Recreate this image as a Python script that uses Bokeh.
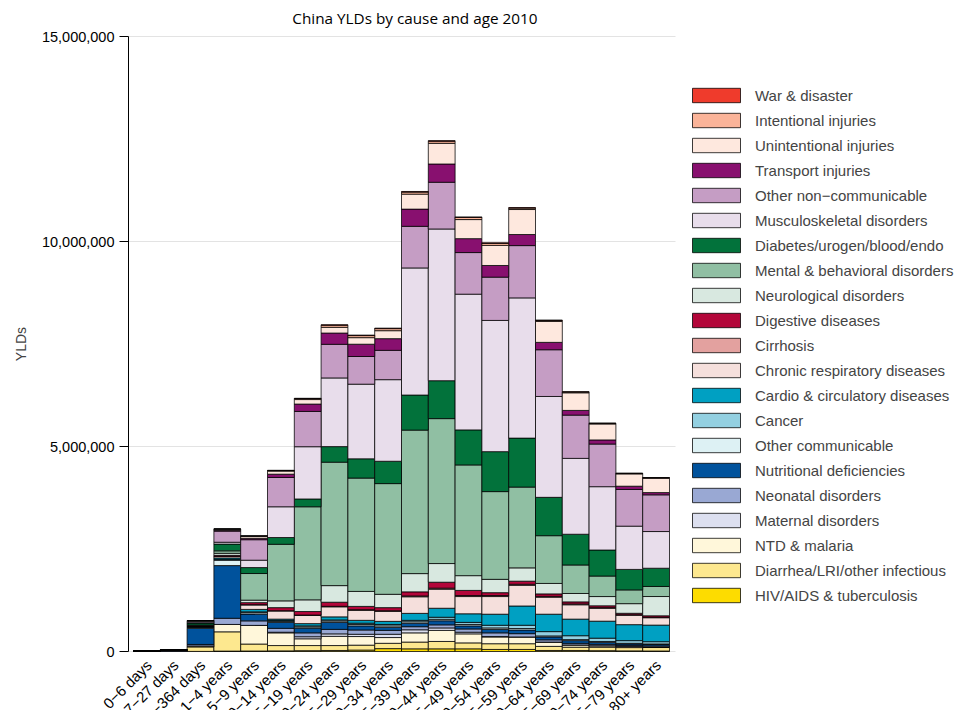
from bokeh.plotting import figure
from bokeh.models import (Range1d, FixedTicker, NumeralTickFormatter,
                          Legend, LegendItem, Label, ColumnDataSource)
from bokeh.core.properties import value
from bokeh.embed import file_html
from bokeh.resources import INLINE
import math

ages = ["0−6 days", "7−27 days", "28−364 days", "1−4 years", "5−9 years", "10−14 years",
        "15−19 years", "20−24 years", "25−29 years", "30−34 years", "35−39 years",
        "40−44 years", "45−49 years", "50−54 years", "55−59 years", "60−64 years",
        "65−69 years", "70−74 years", "75−79 years", "80+ years"]

# bottom to top stacking order
causes = ["HIV/AIDS & tuberculosis", "Diarrhea/LRI/other infectious", "NTD & malaria",
          "Maternal disorders", "Neonatal disorders", "Nutritional deficiencies",
          "Other communicable", "Cancer", "Cardio & circulatory diseases",
          "Chronic respiratory diseases", "Cirrhosis", "Digestive diseases",
          "Neurological disorders", "Mental & behavioral disorders",
          "Diabetes/urogen/blood/endo", "Musculoskeletal disorders",
          "Other non−communicable", "Transport injuries", "Unintentional injuries",
          "Intentional injuries", "War & disaster"]

colors = ["#FDDC00", "#FDE88F", "#FFF7DA", "#DCDFEF", "#99A8D3", "#00529C",
          "#DDF1F4", "#93D0E1", "#00A0C2", "#F5DFDC", "#E3A19F", "#B3063A",
          "#D8E8E0", "#90BFA3", "#02723B", "#E8DDEB", "#C59DC4", "#88106F",
          "#FEE8DE", "#FBB499", "#EF3B2C"]

hiv = [0, 0, 2000, 10000, 12000, 15000, 20000, 25000, 35000, 70000, 65000, 65000, 65000, 50000, 50000, 25000, 25000, 20000, 15000, 12000]
diarrhea = [2000, 8000, 110000, 470000, 170000, 130000, 125000, 120000, 120000, 130000, 165000, 180000, 145000, 140000, 140000, 100000, 80000, 85000, 80000, 85000]
ntd = [500, 1000, 25000, 180000, 455000, 310000, 165000, 225000, 210000, 140000, 225000, 270000, 220000, 165000, 165000, 105000, 55000, 35000, 25000, 15000]
maternal = [0, 0, 0, 0, 0, 15000, 50000, 60000, 55000, 80000, 75000, 60000, 40000, 10000, 0, 0, 0, 0, 0, 0]
neonatal = [9000, 20000, 35000, 150000, 110000, 95000, 95000, 110000, 105000, 95000, 75000, 75000, 80000, 90000, 80000, 55000, 40000, 35000, 30000, 25000]
nutritional = [0, 5000, 390000, 1285000, 165000, 145000, 115000, 170000, 100000, 75000, 85000, 100000, 75000, 85000, 90000, 70000, 65000, 50000, 35000, 35000]
other_comm = [1000, 2000, 25000, 130000, 35000, 25000, 30000, 35000, 35000, 35000, 35000, 35000, 35000, 35000, 35000, 25000, 25000, 20000, 15000, 12000]
cancer = [200, 300, 5000, 20000, 20000, 20000, 25000, 25000, 30000, 35000, 35000, 50000, 50000, 65000, 80000, 105000, 95000, 80000, 65000, 55000]
cardio = [500, 1000, 10000, 35000, 60000, 35000, 55000, 75000, 70000, 75000, 170000, 220000, 210000, 270000, 470000, 425000, 405000, 415000, 390000, 405000]
chronic_resp = [100, 300, 10000, 35000, 110000, 200000, 200000, 245000, 245000, 245000, 405000, 465000, 420000, 430000, 505000, 415000, 350000, 315000, 230000, 180000]
cirrhosis = [0, 0, 1000, 5000, 5000, 5000, 10000, 12000, 15000, 15000, 20000, 25000, 25000, 25000, 25000, 20000, 20000, 15000, 12000, 12000]
digestive = [300, 500, 8000, 25000, 50000, 75000, 85000, 100000, 80000, 75000, 100000, 145000, 125000, 70000, 75000, 60000, 50000, 45000, 35000, 35000]
neuro = [500, 1500, 20000, 50000, 60000, 165000, 285000, 405000, 365000, 325000, 445000, 455000, 360000, 325000, 325000, 255000, 205000, 225000, 235000, 470000]
mental = [0, 0, 5000, 60000, 650000, 1380000, 2270000, 3010000, 2765000, 2700000, 3500000, 3535000, 2700000, 2140000, 1970000, 1165000, 695000, 500000, 335000, 245000]
diabetes = [500, 2000, 50000, 165000, 145000, 165000, 190000, 380000, 470000, 545000, 855000, 925000, 855000, 975000, 1195000, 935000, 750000, 635000, 500000, 445000]
musculo = [0, 0, 5000, 45000, 180000, 750000, 1275000, 1675000, 1820000, 1990000, 3100000, 3700000, 3310000, 3200000, 3420000, 2460000, 1850000, 1545000, 1055000, 895000]
other_ncd = [1500, 4000, 35000, 270000, 500000, 715000, 860000, 820000, 675000, 715000, 1015000, 1140000, 1015000, 1055000, 1275000, 1140000, 1055000, 1040000, 895000, 895000]
transport = [0, 100, 3000, 20000, 35000, 80000, 180000, 275000, 300000, 285000, 420000, 445000, 340000, 285000, 270000, 180000, 115000, 100000, 80000, 55000]
unintentional = [300, 1000, 15000, 30000, 50000, 75000, 110000, 140000, 160000, 195000, 365000, 505000, 465000, 490000, 610000, 510000, 430000, 390000, 300000, 350000]
intentional = [0, 0, 1000, 3000, 5000, 15000, 25000, 50000, 50000, 50000, 50000, 50000, 50000, 50000, 35000, 25000, 20000, 15000, 12000, 12000]
war = [0, 0, 500, 2000, 2000, 4000, 6000, 12000, 12000, 12000, 15000, 15000, 15000, 12000, 12000, 7000, 5000, 4000, 4000, 4000]

series = [hiv, diarrhea, ntd, maternal, neonatal, nutritional, other_comm, cancer, cardio,
          chronic_resp, cirrhosis, digestive, neuro, mental, diabetes, musculo, other_ncd,
          transport, unintentional, intentional, war]

y_ticks = [0, 5000000, 10000000, 15000000]
title_text = "China YLDs by cause and age 2010"

# ---- layout (pixels) ----
W, H = 962, 710
AXIS_PX = 128             # y-axis position on the page
BAR_PX = 26.8             # width of one bar in pixels
PLOT_TOP, PLOT_BOTTOM = 36, 651   # pixel rows of 15M and 0
Y_MAX = y_ticks[-1]
K = Y_MAX / (PLOT_BOTTOM - PLOT_TOP)    # data units per pixel (vertical)
LEFT_PAD = 5.0 / BAR_PX
RIGHT_PAD = 6.0 / BAR_PX

n = len(ages)
xs = list(range(n))
x_axis_at = -0.5 - LEFT_PAD
x_start = x_axis_at - AXIS_PX / BAR_PX
x_end = x_start + W / BAR_PX
y_start = -(H - PLOT_BOTTOM) * K
y_end = Y_MAX + PLOT_TOP * K

keys = ["s%d" % i for i in range(len(causes))]
data = {"x": xs}
for k, s in zip(keys, series):
    data[k] = s
source = ColumnDataSource(data)

FONT = "Liberation Sans"

p = figure(x_range=Range1d(x_start, x_end), y_range=Range1d(y_start, y_end),
           width=W, height=H, output_backend="svg", toolbar_location=None,
           min_border_left=0, min_border_right=0, min_border_top=0,
           min_border_bottom=0)
p.outline_line_color = None
p.background_fill_color = "white"
p.xgrid.visible = False
p.ygrid.visible = False
p.xaxis.visible = False

# horizontal grid lines over the plot area only
gx0 = x_axis_at
gx1 = (n - 0.5) + RIGHT_PAD
p.segment(x0=[gx0] * len(y_ticks), x1=[gx1] * len(y_ticks), y0=y_ticks, y1=y_ticks,
          line_color="#e3e3e3", line_width=1)

renderers = p.vbar_stack(keys, x="x", width=1.0, source=source, fill_color=colors,
                         line_color="black", line_width=0.9, line_alpha=0.85)

# y axis, drawn at the left edge of the plot area
yax = p.yaxis[0]
yax.fixed_location = x_axis_at
yax.bounds = (0, Y_MAX)
yax.ticker = FixedTicker(ticks=y_ticks)
yax.formatter = NumeralTickFormatter(format="0,0")
yax.minor_tick_line_color = None
yax.major_tick_out = 9
yax.major_tick_in = 0
yax.major_label_standoff = 5
yax.major_label_text_font = FONT
yax.major_label_text_font_size = "14.5px"
yax.major_label_text_color = "black"
yax.axis_line_color = "black"
yax.major_tick_line_color = "black"
yax.axis_label = "YLDs"
yax.axis_label_text_font = FONT
yax.axis_label_text_font_style = "normal"
yax.axis_label_text_font_size = "14px"
yax.axis_label_standoff = 10

# x category labels, rotated
lab_src = ColumnDataSource(dict(x=xs, y=[0] * n, t=ages))
p.text(x="x", y="y", text="t", source=lab_src, angle=math.pi / 4,
       text_align="right", text_baseline="middle", x_offset=2, y_offset=11,
       text_font=value(FONT), text_font_size="15px", text_color="black")

# title
title = Label(x=(n - 1) / 2 + 0.5, y=Y_MAX + 19 * K, text=title_text,
              text_align="center", text_baseline="middle", text_font="Open Sans",
              text_font_size="15.3px", text_color="black")
p.add_layout(title)

# legend (top item = top of stack)
items = [LegendItem(label=c, renderers=[r]) for c, r in zip(causes, renderers)][::-1]
legend = Legend(items=items, location=(686, H - 604), orientation="vertical",
                glyph_width=60, glyph_height=18, label_height=18, spacing=7,
                label_standoff=9, padding=0, margin=0,
                label_text_font=FONT, label_text_font_size="15px",
                border_line_alpha=0, background_fill_alpha=0)
p.add_layout(legend)

open("out.html", "w").write(file_html(p, INLINE))
